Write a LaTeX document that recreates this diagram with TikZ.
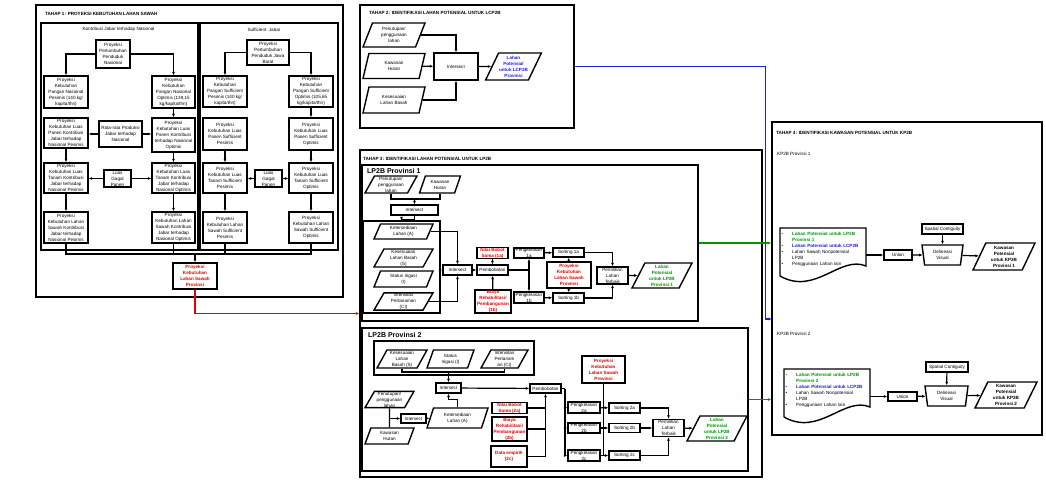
\documentclass[tikz,border=0pt]{standalone}
\usepackage{fontspec}
\setmainfont{Liberation Sans}
\usetikzlibrary{shapes.geometric,arrows.meta}
\definecolor{lpgreen}{RGB}{0,150,0}
\definecolor{lcpblue}{RGB}{30,30,220}
\definecolor{prred}{RGB}{230,0,0}
\begin{document}
\begin{tikzpicture}[x=1pt,y=-1pt,
  every node/.style={font=\fontsize{4.6}{6}\selectfont},
  sz/.style 2 args={minimum width=#1pt,minimum height=#2pt},
  box/.style={draw,line width=1.4pt,align=center,inner sep=0.5pt},
  redbox/.style={box,text=prred,font=\fontsize{4.6}{6}\selectfont\bfseries},
  para/.style={box,trapezium,trapezium left angle=60,trapezium right angle=120,trapezium stretches body},
  trap/.style={box,trapezium,trapezium left angle=104,trapezium right angle=104,trapezium stretches body},
  panel/.style={draw,line width=1.4pt,inner sep=0pt},
  ttl/.style={anchor=west,inner sep=0pt,font=\fontsize{4.6}{6}\selectfont\bfseries},
  arr/.style={line width=1.2pt,-{Latex[length=3.5pt,width=3pt]}},
  ln/.style={line width=1.2pt}]
  \useasboundingbox (0,0) rectangle (1046,489);

  \node[panel,sz={307}{292}] (tahap1) at (189.5,151) {};
  \node[panel,sz={157}{227}] (kontrib) at (119.5,136.5) {};
  \node[panel,sz={138}{227}] (suffjb) at (269,136.5) {};
  \node[panel,sz={214}{123}] (tahap2) at (467,66.5) {};
  \node[panel,sz={402}{327}] (tahap3) at (561,313.5) {};
  \node[panel,sz={336}{156}] (prov1) at (530,243) {};
  \node[panel,sz={386}{143}] (prov2) at (555,399.5) {};
  \node[panel,sz={77}{92}] (grp1) at (401.5,267) {};
  \node[panel,sz={160}{34}] (grp2) at (454,358) {};
  \node[panel,sz={270}{313}] (tahap4) at (907,278.5) {};

  \node[ttl] (ttl1) at (45,14) {TAHAP 1: PROYEKSI KEBUTUHAN LAHAN SAWAH};
  \node[ttl] (ttl2) at (369,13) {TAHAP 2: IDENTIFIKASI LAHAN POTENSIAL UNTUK LCP2B};
  \node[ttl] (ttl3) at (363,159) {TAHAP 3: IDENTIFIKASI LAHAN POTENSIAL UNTUK LP2B};
  \node[ttl] (ttl4) at (776,133) {TAHAP 4: IDENTIFIKASI KAWASAN POTENSIAL UNTUK KP2B};
  \node (sub1) at (118.5,29.5) {Kontribusi Jabar terhadap Nasional};
  \node (sub2) at (264,29.5) {Sufficient\ \ Jabar};
  \node[ttl,font=\fontsize{7}{8}\selectfont\bfseries] (lbl1) at (367,171) {LP2B Provinsi 1};
  \node[ttl,font=\fontsize{7}{8}\selectfont\bfseries] (lbl2) at (368,335) {LP2B Provinsi 2};
  \node[anchor=west,inner sep=0pt] (kplbl1) at (777,154) {KP2B Provinsi 1};
  \node[anchor=west,inner sep=0pt] (kplbl2) at (777,334) {KP2B Provinsi 2};

  \node[box,sz={34}{28}] (ppnas) at (113,54) {Proyeksi\\Pertumbuhan\\Penduduk\\Nasional};
  \node[box,sz={44}{32}] (pangpes) at (66,92) {Proyeksi\\Kebutuhan\\Pangan Nasional\\Pesimis (140 kg/\\kapita/thn)};
  \node[box,sz={43}{32}] (pangopt) at (173.5,92) {Proyeksi\\Kebutuhan\\Pangan Nasional\\Optimis (139,15\\kg/kapita/thn)};
  \node[box,sz={44}{30}] (panenpes) at (66,133) {Proyeksi\\Kebutuhan Luas\\Panen Kontribusi\\Jabar terhadap\\Nasional Pesimis};
  \node[box,sz={43}{26}] (ratanas) at (120.5,134) {Rata-rata Produksi\\Jabar terhadap\\Nasional};
  \node[box,sz={43}{34}] (panenopt) at (173.5,135) {Proyeksi\\Kebutuhan Luas\\Panen Kontribusi\\terhadap Nasional\\Optimis};
  \node[box,sz={44}{30}] (tanampes) at (66,178) {Proyeksi\\Kebutuhan Luas\\Tanam Kontribusi\\Jabar terhadap\\Nasional Pesimis};
  \node[box,sz={27}{17}] (gagalnas) at (117.5,178.5) {Luas\\Gagal\\Panen};
  \node[box,sz={43}{30}] (tanamopt) at (173.5,178) {Proyeksi\\Kebutuhan Luas\\Tanam Kontribusi\\Jabar terhadap\\Nasional Optimis};
  \node[box,sz={44}{31}] (sawahpes) at (66,227.5) {Proyeksi\\Kebutuhan Lahan\\Sawah Kontribusi\\Jabar terhadap\\Nasional Pesimis};
  \node[box,sz={43}{31}] (sawahopt) at (173.5,227.5) {Proyeksi\\Kebutuhan Lahan\\Sawah Kontribusi\\Jabar terhadap\\Nasional Optimis};

  \node[box,sz={42}{25}] (ppjb) at (268,52.5) {Proyeksi\\Pertumbuhan\\Penduduk Jawa\\Barat};
  \node[box,sz={44}{31}] (pangpes2) at (225,91.5) {Proyeksi\\Kebutuhan\\Pangan Sufficient\\Pesimis (140 kg/\\kapita/thn)};
  \node[box,sz={44}{31}] (pangopt2) at (311,91.5) {Proyeksi\\Kebutuhan\\Pangan Sufficient\\Optimis (105,65\\kg/kapita/thn)};
  \node[box,sz={44}{32}] (panenpes2) at (225,134) {Proyeksi\\Kebutuhan Luas\\Panen Sufficient\\Pesimis};
  \node[box,sz={44}{32}] (panenopt2) at (311,134) {Proyeksi\\Kebutuhan Luas\\Panen Sufficient\\Optimis};
  \node[box,sz={44}{30}] (tanampes2) at (225,178) {Proyeksi\\Kebutuhan Luas\\Tanam Sufficient\\Pesimis};
  \node[box,sz={27}{17}] (gagaljb) at (268.5,178.5) {Luas\\Gagal\\Panen};
  \node[box,sz={44}{30}] (tanamopt2) at (311,178) {Proyeksi\\Kebutuhan Luas\\Tanam Sufficient\\Optimis};
  \node[box,sz={44}{31}] (sawahpes2) at (225,227.5) {Proyeksi\\Kebutuhan Lahan\\Sawah Sufficient\\Pesimis};
  \node[box,sz={44}{31}] (sawahopt2) at (311,227.5) {Proyeksi\\Kebutuhan Lahan\\Sawah Sufficient\\Optimis};
  \node[redbox,sz={44}{26}] (kebprov) at (195,276) {Proyeksi\\Kebutuhan\\Lahan Sawah\\Provinsi};
  \coordinate (busl) at (66,254);

  \draw[arr] (ppnas.west) -| (pangpes.north);
  \draw[arr] (ppnas.east) -| (pangopt.north);
  \draw[arr] (pangopt) -- (panenopt);
  \draw[arr] (ratanas.west) -- (panenpes.east |- ratanas.west);
  \draw[arr] (ratanas.east) -- (panenopt.west |- ratanas.east);
  \draw[arr] (panenpes) -- (tanampes);
  \draw[arr] (panenopt) -- (tanamopt);
  \draw[arr] (gagalnas.west) -- (tanampes.east |- gagalnas.west);
  \draw[arr] (gagalnas.east) -- (tanamopt.west |- gagalnas.east);
  \draw[arr] (tanampes) -- (sawahpes);
  \draw[arr] (tanamopt) -- (sawahopt);
  \draw[arr] (ppjb.west) -| (pangpes2.north);
  \draw[arr] (ppjb.east) -| (pangopt2.north);
  \draw[arr] (pangopt2) -- (panenopt2);
  \draw[arr] (panenpes2) -- (tanampes2);
  \draw[arr] (panenopt2) -- (tanamopt2);
  \draw[arr] (gagaljb.west) -- (tanampes2.east |- gagaljb.west);
  \draw[arr] (gagaljb.east) -- (tanamopt2.west |- gagaljb.east);
  \draw[arr] (tanampes2) -- (sawahpes2);
  \draw[arr] (tanamopt2) -- (sawahopt2);
  \draw[ln] (sawahpes.south) |- (busl) -| (sawahopt2.south);
  \draw[ln] (sawahopt.south) -- (sawahopt.south |- busl);
  \draw[ln] (sawahpes2.south) -- (sawahpes2.south |- busl);
  \draw[arr] (kebprov.north |- busl) -- (kebprov.north);
  \draw[arr,prred,line width=1.5pt] (kebprov.south) |- (tahap3.west);

  \node[para,sz={62}{24}] (pen2) at (394,35) {Penutupan/\\penggunaan\\lahan};
  \node[para,sz={62}{25}] (hut2) at (394,66) {Kawasan\\Hutan};
  \node[para,sz={62}{26}] (kes2) at (394,100) {Kesesuaian\\Lahan Basah};
  \node[box,sz={44}{27}] (isect0) at (456,66.5) {Intersect};
  \node[para,sz={54}{27},text=lcpblue,font=\fontsize{4.6}{6}\selectfont\bfseries] (lcp) at (513.5,66.5) {Lahan\\Potensial\\untuk LCP2B\\Provinsi};
  \draw[arr] (pen2.east) -| (isect0.north);
  \draw[arr] (hut2) -- (isect0);
  \draw[arr] (kes2.east) -| (isect0.south);
  \draw[arr] (isect0) -- (lcp);
  \coordinate (bluein) at (772,319);
  \draw[arr,lcpblue,line width=1.4pt] (tahap2.east |- lcp) -- ++(191,0) |- (bluein);

  \node[para,sz={52}{17}] (pen3) at (391,184.5) {Penutupan/\\penggunaan\\lahan};
  \node[para,sz={41}{17}] (hut3) at (440,184.5) {Kawasan\\Hutan};
  \node[box,sz={47}{10}] (isect1) at (414.5,210) {Intersect};
  \node[para,sz={59}{15}] (ket1) at (403.5,231.5) {Ketersediaan\\Lahan (A)};
  \node[para,sz={59}{18}] (kes1) at (403.5,258) {Kesesuaian\\Lahan Basah\\(S)};
  \node[para,sz={59}{16}] (irig1) at (403.5,279) {Status Irigasi\\(I)};
  \node[para,sz={59}{17}] (int1) at (403.5,301.5) {Intensitas\\Pertanaman\\(CI)};
  \node[box,sz={29}{10}] (isect2) at (457.5,270) {Intersect};
  \node[box,sz={31}{10}] (bobot1) at (492.5,270) {Pembobotan};
  \node[redbox,sz={31}{10}] (nilai1) at (492.5,253) {Nilai Bobot\\Sama (1a)};
  \node[redbox,sz={36}{23}] (biaya1) at (493,301.5) {Biaya\\Rehabilitasi/\\Pembangunan\\(1b)};
  \node[box,sz={30}{10}] (kls1a) at (529,253) {Pengkelasan\\1a};
  \node[box,sz={30}{11}] (kls1b) at (529,297.5) {Pengkelasan\\1b};
  \node[box,sz={31}{9}] (sort1a) at (568.5,252.5) {Sorting 1a};
  \node[box,sz={31}{10}] (sort1b) at (568.5,298) {Sorting 1b};
  \node[redbox,sz={44}{26}] (keb1) at (569,275) {Proyeksi\\Kebutuhan\\Lahan Sawah\\Provinsi};
  \node[box,sz={31}{17}] (pilih1) at (612.5,275.5) {Pemilihan\\Lahan\\Terbaik};
  \node[para,sz={60}{25},text=lpgreen,font=\fontsize{4.6}{6}\selectfont\bfseries] (lp1) at (662,275.5) {Lahan\\Potensial\\untuk LP2B\\Provinsi 1};
  \coordinate (j1) at (414.5,199);
  \coordinate (j2) at (529,270);
  \draw[ln] (pen3.south) |- (j1) -| (hut3.south);
  \draw[arr] (j1) -- (isect1.north);
  \draw[arr] (isect1.south) -- ++(0,4) -| (grp1.north);
  \draw[arr] (ket1.east) -| (isect2.north);
  \draw[arr] (grp1.east |- isect2) -- (isect2.west);
  \draw[arr] (int1.east) -| (isect2.south);
  \draw[arr] (isect2) -- (bobot1);
  \draw[arr] (nilai1) -- (bobot1);
  \draw[arr] (biaya1) -- (bobot1);
  \draw[ln] (bobot1) -- (j2);
  \draw[arr] (j2) -- (kls1a.south);
  \draw[arr] (j2) -- (kls1b.north);
  \draw[arr] (kls1a) -- (sort1a);
  \draw[arr] (kls1b) -- (sort1b);
  \draw[arr] (keb1) -- (sort1a);
  \draw[arr] (keb1) -- (sort1b);
  \draw[arr] (sort1a.east) -| (pilih1.north);
  \draw[arr] (sort1b.east) -| (pilih1.south);
  \draw[arr] (pilih1) -- (lp1);
  \draw[arr,lpgreen,line width=1.4pt] (prov1.east) -- (tahap4.west |- prov1.east);

  \node[para,sz={50}{18}] (kes4) at (402,359) {Kesesuaian\\Lahan\\Basah (S)};
  \node[para,sz={47}{18}] (irig4) at (450.5,359) {Status\\Irigasi (I)};
  \node[para,sz={47}{18}] (int4) at (504.5,359) {Intensitas\\Pertanam\\an (CI)};
  \node[box,sz={25}{10}] (isect4) at (448.5,388) {Intersect};
  \node[box,sz={31}{9}] (bobot2) at (545.5,388.5) {Pembobotan};
  \node[para,sz={49}{15}] (pen5) at (389.5,399.5) {Penutupan/\\penggunaan\\lahan};
  \node[para,sz={49}{16}] (hut5) at (389.5,436) {Kawasan\\Hutan};
  \node[box,sz={25}{9}] (isect5) at (413.5,418.5) {Intersect};
  \node[para,sz={61}{20}] (ket5) at (457.5,418) {Ketersediaan\\Lahan (A)};
  \node[redbox,sz={35}{10}] (nilai2) at (509.5,408) {Nilai Bobot\\Sama (2a)};
  \node[redbox,sz={35}{24}] (biaya2) at (509.5,429) {Biaya\\Rehabilitasi/\\Pembangunan\\(2b)};
  \node[redbox,sz={36}{21}] (data2) at (509,456.5) {Data empirik\\(2c)};
  \node[box,sz={32}{11}] (kls2a) at (584,407.5) {Pengkelasan\\2a};
  \node[box,sz={32}{10}] (kls2b) at (584,428) {Pengkelasan\\2b};
  \node[box,sz={32}{11}] (kls2c) at (584,455.5) {Pengkelasan\\2c};
  \node[box,sz={31}{10}] (sort2a) at (624.5,408) {Sorting 2a};
  \node[box,sz={31}{9}] (sort2b) at (624.5,428) {Sorting 2b};
  \node[box,sz={31}{9}] (sort2c) at (624.5,455.5) {Sorting 2c};
  \node[redbox,sz={43}{27}] (keb2) at (603.5,369.5) {Proyeksi\\Kebutuhan\\Lahan Sawah\\Provinsi};
  \node[box,sz={31}{17}] (pilih2) at (668.5,428) {Pemilihan\\Lahan\\Terbaik};
  \node[para,sz={60}{25},text=lpgreen,font=\fontsize{4.6}{6}\selectfont\bfseries] (lp2) at (717,428.5) {Lahan\\Potensial\\untuk LP2B\\Provinsi 2};
  \coordinate (j3) at (448.5,372);
  \coordinate (j4) at (389.5,418.5);
  \coordinate (j6) at (565,388.5);
  \draw[ln] (kes4.south) |- (j3) -| (int4.south);
  \draw[arr] (j3) -- (isect4.north);
  \draw[arr] (isect4) -- (bobot2);
  \draw[ln] (pen5.south) -- (hut5.north);
  \draw[arr] (j4) -- (isect5.west);
  \draw[arr] (isect5) -- (ket5);
  \draw[arr] (ket5.north) -- ++(0,-8) -| (isect4.south);
  \draw[ln] (nilai2.east) -- (nilai2.east -| bobot2.south);
  \draw[ln] (biaya2.east) -- (biaya2.east -| bobot2.south);
  \draw[arr] (data2.east) -| (bobot2.south);
  \draw[ln] (bobot2) -- (j6);
  \draw[arr] (j6) |- (kls2a.west);
  \draw[arr] (j6) |- (kls2b.west);
  \draw[arr] (j6) |- (kls2c.west);
  \draw[ln] (keb2.south) -- (keb2.south |- sort2c);
  \draw[arr] (kls2a) -- (sort2a);
  \draw[arr] (kls2b) -- (sort2b);
  \draw[arr] (kls2c) -- (sort2c);
  \draw[arr] (sort2a.east) -| (pilih2.north);
  \draw[arr] (sort2b) -- (pilih2);
  \draw[arr] (sort2c.east) -| (pilih2.south);
  \draw[arr] (pilih2) -- (lp2);
  \draw[arr,lpgreen,line width=1.4pt] (prov2.east) -- (tahap4.west |- prov2.east);

  \node[anchor=north west,inner sep=0pt,text width=86pt,align=left] (doc1) at (780,231) {%
    \begin{tabular}{@{\hspace{1.5pt}}p{10.5pt}@{}l@{}}
    \textcolor{lpgreen}{\textbullet} & \textcolor{lpgreen}{\textbf{Lahan Potensial untuk LP2B}}\\
     & \textcolor{lpgreen}{\textbf{Provinsi 1}}\\
    \textcolor{lcpblue}{\textbullet} & \textcolor{lcpblue}{\textbf{Lahan Potensial untuk LCP2B}}\\
    \textbullet & Lahan Sawah Nonpotensial\\
     & LP2B\\
    \textbullet & Penggunaan Lahan lain
    \end{tabular}};
  \draw[line width=1.4pt] (780,276) -- (780,228) -- (866,228) -- (866,266)
    .. controls (840,255) and (815,296) .. (780,276);
  \node[box,sz={28}{10}] (union1) at (898,255) {Union};
  \node[trap,sz={41}{20}] (delin1) at (942.5,255) {Delineasi\\Visual};
  \node[box,sz={41}{10}] (spat1) at (942.5,229) {Spatial Contiguity};
  \node[para,sz={62}{27},font=\fontsize{4.6}{6}\selectfont\bfseries] (kp1) at (1004,256.5) {Kawasan\\Potensial\\untuk KP2B\\Provinsi 1};
  \draw[arr] (doc1.east |- union1.west) -- (union1.west);
  \draw[arr] (union1) -- (delin1);
  \draw[arr] (spat1) -- (delin1);
  \draw[arr] (delin1) -- (kp1);

  \node[anchor=north west,inner sep=0pt,text width=86pt,align=left] (doc2) at (784,372) {%
    \begin{tabular}{@{\hspace{1.5pt}}p{10.5pt}@{}l@{}}
    \textcolor{lpgreen}{\textbullet} & \textcolor{lpgreen}{\textbf{Lahan Potensial untuk LP2B}}\\
     & \textcolor{lpgreen}{\textbf{Provinsi 2}}\\
    \textcolor{lcpblue}{\textbullet} & \textcolor{lcpblue}{\textbf{Lahan Potensial untuk LCP2B}}\\
    \textbullet & Lahan Sawah Nonpotensial\\
     & LP2B\\
    \textbullet & Penggunaan Lahan lain
    \end{tabular}};
  \draw[line width=1.4pt] (784,417) -- (784,369) -- (870,369) -- (870,407)
    .. controls (844,396) and (819,437) .. (784,417);
  \node[box,sz={29}{9}] (union2) at (902.5,396.5) {Union};
  \node[trap,sz={43}{20}] (delin2) at (946.5,396) {Delineasi\\Visual};
  \node[box,sz={42}{10}] (spat2) at (947,367) {Spatial Contiguity};
  \node[para,sz={62}{26},font=\fontsize{4.6}{6}\selectfont\bfseries] (kp2) at (1006,395) {Kawasan\\Potensial\\untuk KP2B\\Provinsi 2};
  \draw[arr] (doc2.east |- union2.west) -- (union2.west);
  \draw[arr] (union2) -- (delin2);
  \draw[arr] (spat2) -- (delin2);
  \draw[arr] (delin2) -- (kp2);
\end{tikzpicture}
\end{document}
